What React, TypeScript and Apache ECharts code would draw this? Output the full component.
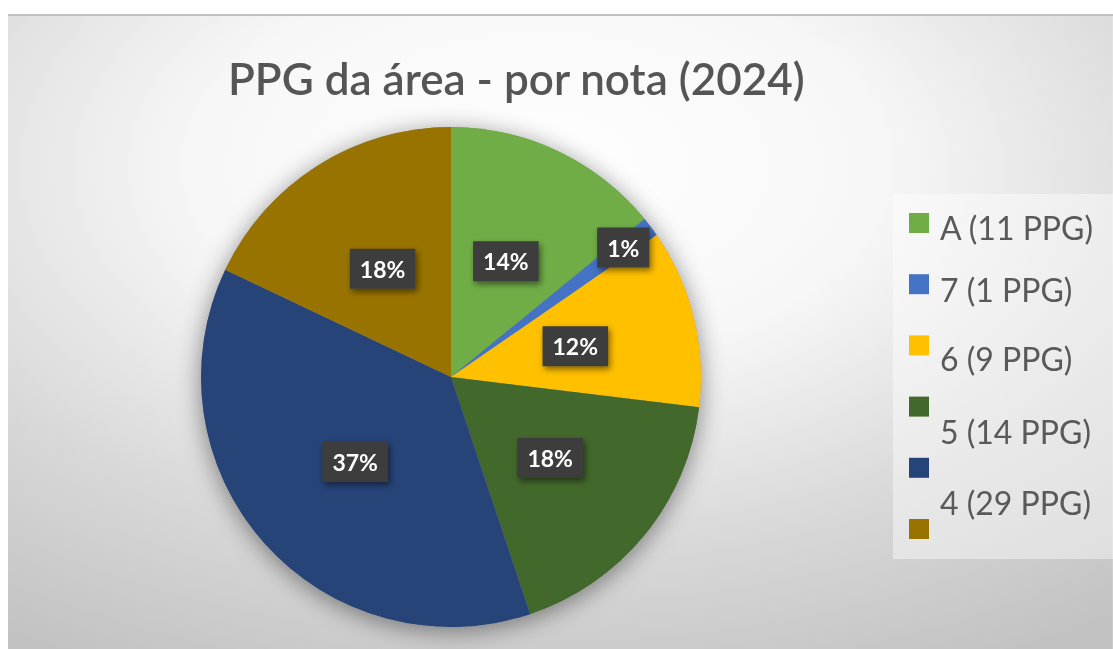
import React, { useEffect, useRef } from "react";
import * as echarts from "echarts";

// ---- data ----
const TITLE = "PPG da área - por nota (2024)";
const CATEGORIES = ["A (11 PPG)", "7 (1 PPG)", "6 (9 PPG)", "5 (14 PPG)", "4 (29 PPG)", "3 (14 PPG)"];
const VALUES = [11, 1, 9, 14, 29, 14];
const COLORS = ["#70AD47", "#4472C4", "#FFC000", "#43682B", "#264478", "#997300"];

// ---- layout (not data) ----
const W = 1105;
const H = 635;
const CX = 443;
const CY = 363;
const R = 250;
const FONT = "Lato, 'Noto Sans', sans-serif";
// legend text vertical offsets relative to each marker (Excel squeezed legend; last label overflowed)
const LEGEND_TEXT_DY = [4, 5, 13, 25, 35];

export default function App() {
  const ref = useRef<HTMLDivElement>(null);

  useEffect(() => {
    if (!ref.current) return;
    const chart = echarts.init(ref.current, null, { renderer: "svg" });
    const total = VALUES.reduce((a, b) => a + b, 0);

    const legendEls: any[] = [
      {
        type: "rect",
        silent: true,
        shape: { x: 885, y: 180, width: 220, height: 365 },
        style: { fill: "rgba(255,255,255,0.42)" },
      },
    ];
    CATEGORIES.forEach((name, i) => {
      const top = 199 + i * 61.2;
      legendEls.push({
        type: "rect",
        silent: true,
        shape: { x: 901, y: top, width: 20, height: 20 },
        style: { fill: COLORS[i] },
      });
      if (i < LEGEND_TEXT_DY.length) {
        legendEls.push({
          type: "text",
          silent: true,
          x: 932,
          y: top + 10 + LEGEND_TEXT_DY[i],
          style: {
            text: name,
            fontFamily: FONT,
            fontSize: 32,
            fill: "#595959",
            verticalAlign: "middle",
            align: "left",
          },
        });
      }
    });

    const bgScale = 620 / 560;
    const option: any = {
      animation: false,
      title: {
        text: TITLE,
        left: 220,
        top: 42,
        padding: 0,
        textStyle: { fontFamily: FONT, fontSize: 44, fontWeight: 600, color: "#555555" },
      },
      graphic: [
        {
          type: "rect",
          silent: true,
          z: -10,
          x: 0,
          y: 0,
          scaleX: bgScale,
          shape: { x: 0, y: 0, width: W / bgScale, height: H },
          style: {
            fill: {
              type: "radial",
              x: 0.48,
              y: 0.24,
              r: 560 / 635,
              colorStops: [
                { offset: 0, color: "#ffffff" },
                { offset: 0.35, color: "#f7f7f7" },
                { offset: 0.68, color: "#d9d9d9" },
                { offset: 1, color: "#c2c2c2" },
              ],
            },
          },
        },
        {
          type: "rect",
          silent: true,
          shape: { x: 0, y: 0, width: W, height: 2 },
          style: { fill: "#c0c0c0" },
        },
        ...legendEls,
      ],
      series: [
        {
          type: "pie",
          silent: true,
          z: 1,
          center: [CX, CY],
          radius: R,
          label: { show: false },
          labelLine: { show: false },
          data: [{ value: 1, name: "" }],
          itemStyle: {
            color: "#8a8a8a",
            shadowBlur: 24,
            shadowColor: "rgba(0,0,0,0.45)",
            shadowOffsetY: 4,
          },
        },
        {
          type: "pie",
          z: 2,
          center: [CX, CY],
          radius: R,
          startAngle: 90,
          clockwise: true,
          avoidLabelOverlap: false,
          percentPrecision: 0,
          itemStyle: { borderWidth: 0 },
          label: {
            show: true,
            position: "inside",
            formatter: "{d}%",
            fontFamily: FONT,
            fontWeight: "bold",
            fontSize: 23,
            color: "#ffffff",
            backgroundColor: "#3d3d3d",
            padding: [9, 10, 8, 10],
            shadowColor: "rgba(0,0,0,0.5)",
            shadowBlur: 6,
            shadowOffsetX: 2,
            shadowOffsetY: 3,
          },
          labelLine: { show: false },
          labelLayout: (params: any) => {
            const i = params.dataIndex;
            const v = VALUES[i];
            if (v / total >= 0.05) return {};
            let before = 0;
            for (let k = 0; k < i; k++) before += VALUES[k];
            const mid = ((before + v / 2) / total) * Math.PI * 2;
            const shift = (0.85 - 0.5) * R;
            return { dx: shift * Math.sin(mid), dy: -shift * Math.cos(mid) };
          },
          data: CATEGORIES.map((name, i) => ({
            name,
            value: VALUES[i],
            itemStyle: { color: COLORS[i] },
          })),
        },
      ],
    };
    chart.setOption(option);
    return () => chart.dispose();
  }, []);

  return (
    <div
      ref={ref}
      style={{ position: "fixed", left: 8, top: 14, width: W, height: H }}
    />
  );
}
